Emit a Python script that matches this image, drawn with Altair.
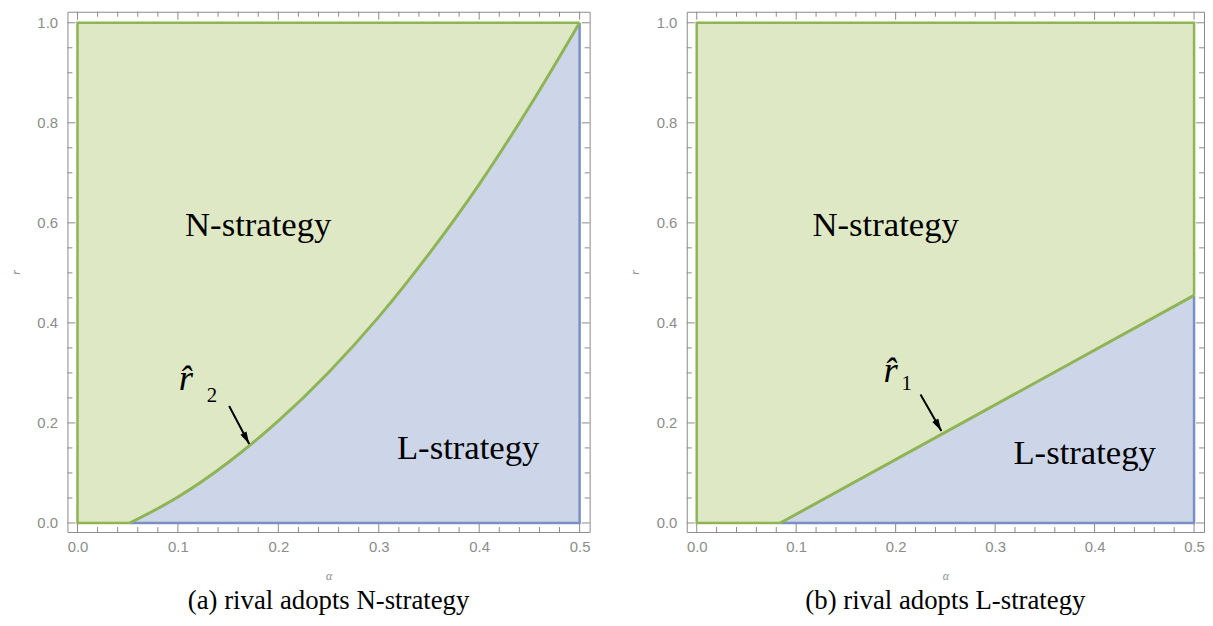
import altair as alt
import pandas as pd

# ---------------- data ----------------
# Panel (a): boundary curve r_hat_2 (alpha, r)
alpha_a = [0.0, 0.052, 0.08, 0.10, 0.15, 0.20, 0.25, 0.30, 0.35, 0.40, 0.45, 0.50]
r_a = [0.0, 0.0, 0.029, 0.052, 0.121, 0.204, 0.301, 0.412, 0.538, 0.677, 0.832, 1.0]

# Panel (b): boundary line r_hat_1 (alpha, r)
alpha_b = [0.0, 0.084, 0.50]
r_b = [0.0, 0.0, 0.455]

alpha_max = 0.5
r_max = 1.0

# tick values
x_major = [0.0, 0.1, 0.2, 0.3, 0.4, 0.5]
x_minor = [0.02, 0.04, 0.06, 0.08, 0.12, 0.14, 0.16, 0.18, 0.22, 0.24, 0.26, 0.28,
           0.32, 0.34, 0.36, 0.38, 0.42, 0.44, 0.46, 0.48]
y_major = [0.0, 0.2, 0.4, 0.6, 0.8, 1.0]
y_minor = [0.05, 0.1, 0.15, 0.25, 0.3, 0.35, 0.45, 0.5, 0.55, 0.65, 0.7, 0.75,
           0.85, 0.9, 0.95]

# region labels
region_text = ["N-strategy", "L-strategy"]
region_alpha_a = [0.18, 0.389]
region_r_a = [0.596, 0.149]
region_alpha_b = [0.19, 0.39]
region_r_b = [0.596, 0.14]

# r-hat labels: (alpha, r) of the "r̂", and of the subscript
rhat_a = (0.108, 0.287)
sub_a = (0.134, 0.253, "2")
rhat_b = (0.195, 0.303)
sub_b = (0.211, 0.277, "1")

# arrows: start (alpha, r) -> tip (alpha, r)
arrow_a = [(0.151, 0.234), (0.171, 0.158)]
arrow_b = [(0.225, 0.257), (0.246, 0.184)]

captions = ["(a) rival adopts N-strategy", "(b) rival adopts L-strategy"]

# ---------------- styles ----------------
GREEN_FILL = "#dfe8c5"
BLUE_FILL = "#ccd6e8"
GREEN_LINE = "#8fb455"
BLUE_LINE = "#7b8fc2"
FRAME = "#8a8a8a"
LABEL = "#8c8c8c"
SERIF = "Liberation Serif"
SANS = "Liberation Sans"
HEIGHT = 525
ARROW_PATH = "M0,0 L-0.5,1.8 L0.5,1.8 Z"


def panel(alpha, r, reg_alpha, reg_r, rhat, sub, arrow, arrow_angle, caption, width):
    xs = alt.Scale(domain=[-0.01, 0.51], nice=False, zero=False)
    ys = alt.Scale(domain=[-0.018, 1.022], nice=False, zero=False)
    x_axis = alt.Axis(values=x_major, format=".1f", ticks=False, domain=False, grid=False,
                      labelFont=SANS, labelFontSize=15, labelColor=LABEL, labelPadding=8,
                      title="α", titleFont=SERIF, titleFontSize=12, titleColor=LABEL,
                      titleFontWeight="normal", titleFontStyle="italic", titlePadding=16)
    y_axis = alt.Axis(values=y_major, format=".1f", ticks=False, domain=False, grid=False,
                      labelFont=SANS, labelFontSize=15, labelColor=LABEL, labelPadding=10,
                      title="r", titleFont=SERIF, titleFontSize=12, titleColor=LABEL,
                      titleFontWeight="normal", titleFontStyle="italic", titlePadding=15)

    def X(f):
        return alt.X(f, type="quantitative", scale=xs, axis=x_axis)

    def Y(f):
        return alt.Y(f, type="quantitative", scale=ys, axis=y_axis)

    k = max(i for i, v in enumerate(r) if v == 0.0)
    curve_df = pd.DataFrame({"alpha": alpha[k:], "r": r[k:],
                             "zero": [0.0] * (len(alpha) - k)})
    box_df = pd.DataFrame({"a0": [alpha[0]], "a1": [alpha_max], "r0": [0.0], "r1": [r_max]})

    # green edges (left, top, bottom-left, upper-right) and blue edges
    g_pts = [(alpha[k], 0.0), (alpha[0], 0.0), (alpha[0], r_max), (alpha_max, r_max),
             (alpha_max, r[-1])]
    g_df = pd.DataFrame({"alpha": [p[0] for p in g_pts], "r": [p[1] for p in g_pts],
                         "o": list(range(len(g_pts)))})
    b_pts = [(alpha[k], 0.0), (alpha_max, 0.0), (alpha_max, r[-1])]
    b_df = pd.DataFrame({"alpha": [p[0] for p in b_pts], "r": [p[1] for p in b_pts],
                         "o": list(range(len(b_pts)))})

    green = alt.Chart(box_df).mark_rect(color=GREEN_FILL, opacity=1).encode(
        x=X("a0"), x2="a1", y=Y("r0"), y2="r1")
    blue = alt.Chart(curve_df).mark_area(color=BLUE_FILL, opacity=1,
                                         interpolate="monotone").encode(
        x=X("alpha"), y=Y("zero"), y2="r")
    blue_line = alt.Chart(b_df).mark_line(color=BLUE_LINE, strokeWidth=2.5).encode(
        x=X("alpha"), y=Y("r"), order="o:Q")
    green_edge = alt.Chart(g_df).mark_line(color=GREEN_LINE, strokeWidth=2.5).encode(
        x=X("alpha"), y=Y("r"), order="o:Q")
    curve = alt.Chart(curve_df).mark_line(color=GREEN_LINE, strokeWidth=3,
                                          interpolate="monotone").encode(
        x=X("alpha"), y=Y("r"))

    # frame ticks (inward, as in the reference)
    ticks = []
    for vals, ln in ((x_major, 8), (x_minor, 5)):
        tdf = pd.DataFrame({"v": vals})
        ticks.append(alt.Chart(tdf).mark_rule(color=FRAME, strokeWidth=1).encode(
            x=X("v"), y=alt.value(HEIGHT), y2=alt.value(HEIGHT - ln)))
        ticks.append(alt.Chart(tdf).mark_rule(color=FRAME, strokeWidth=1).encode(
            x=X("v"), y=alt.value(0), y2=alt.value(ln)))
    for vals, ln in ((y_major, 8), (y_minor, 5)):
        tdf = pd.DataFrame({"v": vals})
        ticks.append(alt.Chart(tdf).mark_rule(color=FRAME, strokeWidth=1).encode(
            y=Y("v"), x=alt.value(0), x2=alt.value(ln)))
        ticks.append(alt.Chart(tdf).mark_rule(color=FRAME, strokeWidth=1).encode(
            y=Y("v"), x=alt.value(width), x2=alt.value(width - ln)))

    lab_df = pd.DataFrame({"t": region_text, "alpha": reg_alpha, "r": reg_r})
    labels = alt.Chart(lab_df).mark_text(font=SERIF, fontSize=35, color="black").encode(
        x=X("alpha"), y=Y("r"), text="t:N")

    rdf = pd.DataFrame({"alpha": [rhat[0]], "r": [rhat[1]], "t": ["r\u0302"]})
    r_text = alt.Chart(rdf).mark_text(font=SERIF, fontSize=37, fontStyle="italic",
                                       color="black").encode(
        x=X("alpha"), y=Y("r"), text="t:N")
    sdf = pd.DataFrame({"alpha": [sub[0]], "r": [sub[1]], "t": [sub[2]]})
    sub_text = alt.Chart(sdf).mark_text(font=SERIF, fontSize=21, color="black").encode(
        x=X("alpha"), y=Y("r"), text="t:N")

    adf = pd.DataFrame({"a0": [arrow[0][0]], "r0": [arrow[0][1]],
                        "a1": [arrow[1][0]], "r1": [arrow[1][1]]})
    shaft = alt.Chart(adf).mark_rule(color="black", strokeWidth=2).encode(
        x=X("a0"), y=Y("r0"), x2="a1", y2="r1")
    head = alt.Chart(adf).mark_point(shape=ARROW_PATH, filled=True, color="black",
                                      size=190, opacity=1, angle=arrow_angle,
                                      strokeWidth=0).encode(
        x=X("a1"), y=Y("r1"))

    return alt.layer(
        green, blue, blue_line, green_edge, curve, *ticks,
        labels, r_text, sub_text, shaft, head,
    ).properties(
        width=width, height=HEIGHT,
        title=alt.TitleParams(caption, orient="bottom", anchor="middle", font=SERIF,
                              fontSize=27, fontWeight="normal", color="black", offset=7),
    )


left = panel(alpha_a, r_a, region_alpha_a, region_r_a, rhat_a, sub_a, arrow_a, 152,
             captions[0], 527)
right = panel(alpha_b, r_b, region_alpha_b, region_r_b, rhat_b, sub_b, arrow_b, 150,
              captions[1], 522)

chart = alt.hconcat(left, right, spacing=37).configure(
    padding=0, background="white"
).configure_view(stroke=FRAME, strokeWidth=1)

chart.save("out.html", embed_options={"renderer": "svg", "actions": False})
